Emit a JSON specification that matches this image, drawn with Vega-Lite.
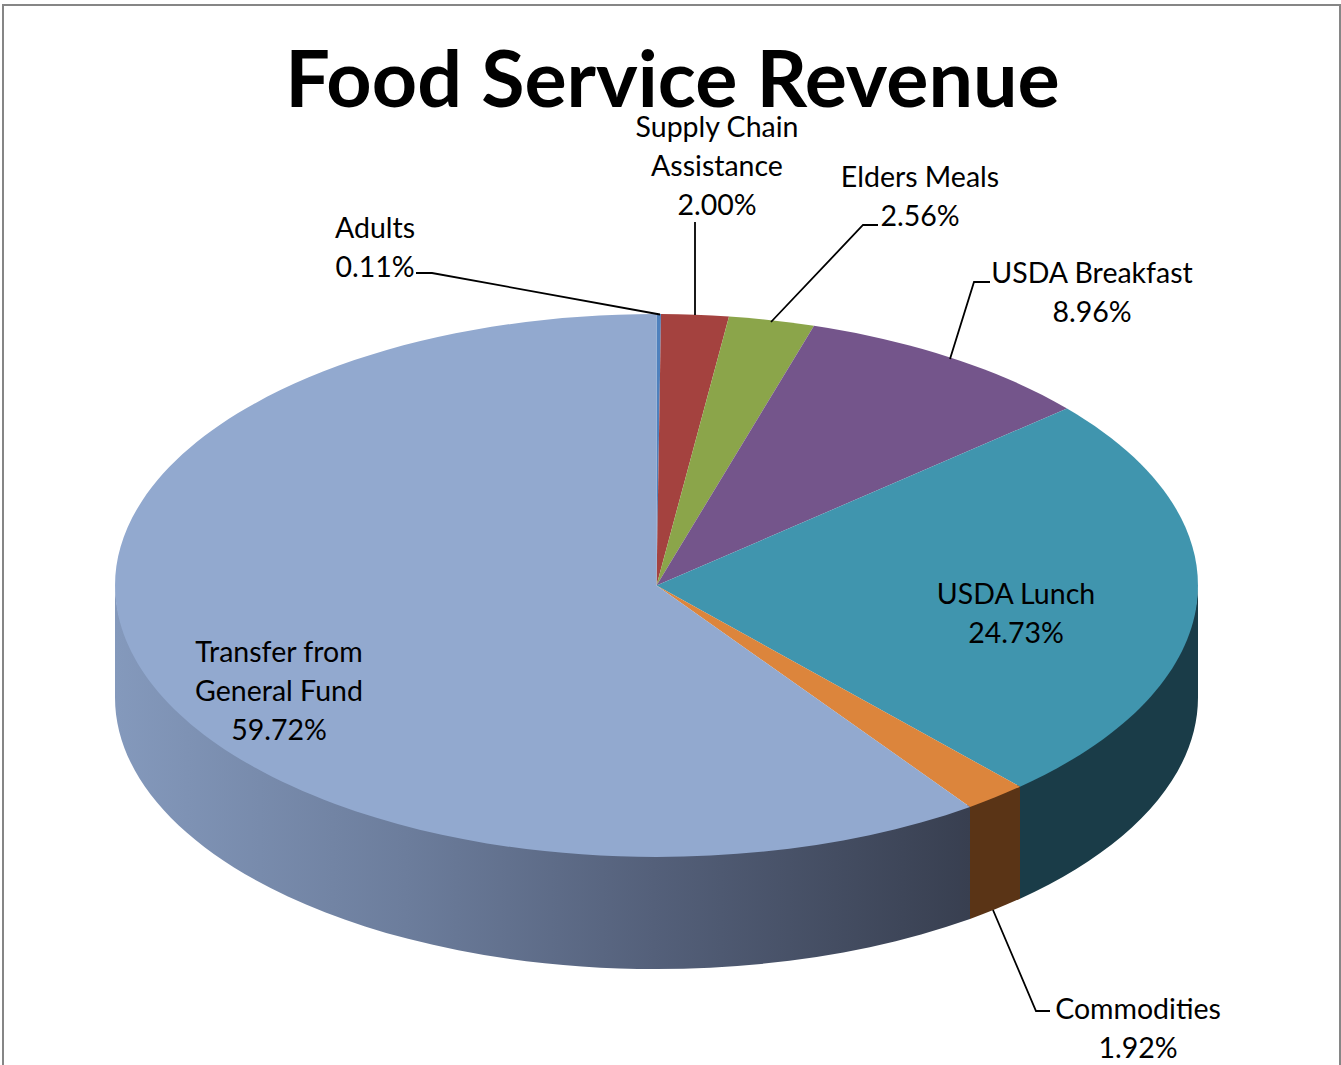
{"$schema":"https://vega.github.io/schema/vega-lite/v6.json","width":1341,"height":1065,"padding":0,"autosize":"none","background":"white","config":{"view":{"stroke":null}},"title":{"text":"Food Service Revenue","orient":"top","anchor":"middle","offset":-124,"dx":2,"font":"Lato","fontSize":79,"fontWeight":"bold","color":"#000000"},"data":{"values":[{"category":"Adults","share":0.11,"label":"Adults\n0.11%"},{"category":"Supply Chain Assistance","share":2.0,"label":"Supply Chain\nAssistance\n2.00%"},{"category":"Elders Meals","share":2.56,"label":"Elders Meals\n2.56%"},{"category":"USDA Breakfast","share":8.96,"label":"USDA Breakfast\n8.96%"},{"category":"USDA Lunch","share":24.73,"label":"USDA Lunch\n24.73%"},{"category":"Commodities","share":1.92,"label":"Commodities\n1.92%"},{"category":"Transfer from General Fund","share":59.72,"label":"Transfer from\nGeneral Fund\n59.72%"}]},"encoding":{"x":{"datum":0,"type":"quantitative","axis":null,"scale":{"domain":[-656.5,684.5],"nice":false,"zero":false}},"y":{"datum":0,"type":"quantitative","axis":null,"scale":{"domain":[-585.5,479.5],"reverse":true,"nice":false,"zero":false}}},"layer":[{"mark":{"type":"rect","fill":null,"stroke":"#868686","strokeWidth":2,"clip":true},"transform":[{"filter":"datum.category==='Adults'"}],"encoding":{"x":{"datum":-653.5},"x2":{"datum":683.5},"y":{"datum":-580.5},"y2":{"datum":500}}},{"transform":[{"filter":"datum.category==='Transfer from General Fund'"}],"mark":{"type":"point","filled":true,"opacity":1,"size":4,"strokeWidth":0,"shape":"M313.5 218.4A541.5 271.5 0 0 1 -541.5 -3L-541.5 112A541.5 271.5 0 0 0 313.5 333.4Z","fill":{"gradient":"linear","x1":1,"y1":0,"x2":0,"y2":0,"stops":[{"offset":0,"color":"#383f50"},{"offset":0.37,"color":"#54607a"},{"offset":0.66,"color":"#6c7d9c"},{"offset":1,"color":"#8499bc"}]}}},{"transform":[{"filter":"datum.category==='Commodities'"}],"mark":{"type":"point","filled":true,"opacity":1,"size":4,"strokeWidth":0,"fill":"#5a3416","shape":"M363.5 198.2A541.5 271.5 0 0 1 313.5 218.4L313.5 333.4A541.5 271.5 0 0 0 363.5 313.2Z"}},{"transform":[{"filter":"datum.category==='USDA Lunch'"}],"mark":{"type":"point","filled":true,"opacity":1,"size":4,"strokeWidth":0,"fill":"#1a3c48","shape":"M541.5 -3A541.5 271.5 0 0 1 363.5 198.2L363.5 313.2A541.5 271.5 0 0 0 541.5 112Z"}},{"mark":{"type":"point","filled":true,"opacity":1,"size":4,"strokeWidth":0},"encoding":{"shape":{"field":"category","type":"nominal","legend":null,"scale":{"domain":["Adults","Supply Chain Assistance","Elders Meals","USDA Breakfast","USDA Lunch","Commodities","Transfer from General Fund"],"range":["M0 0L0 -271.5A541.5 271.5 0 0 1 4.5 -271.5Z","M0 0L4.5 -271.5A541.5 271.5 0 0 1 72.5 -269.05Z","M0 0L72.5 -269.05A541.5 271.5 0 0 1 157.5 -259.8Z","M0 0L157.5 -259.8A541.5 271.5 0 0 1 410.5 -177.05Z","M0 0L410.5 -177.05A541.5 271.5 0 0 1 363.5 201.2Z","M0 0L363.5 201.2A541.5 271.5 0 0 1 313.5 221.4Z","M0 0L313.5 221.4A541.5 271.5 0 1 1 0 -271.5Z"]}},"fill":{"field":"category","type":"nominal","legend":null,"scale":{"domain":["Adults","Supply Chain Assistance","Elders Meals","USDA Breakfast","USDA Lunch","Commodities","Transfer from General Fund"],"range":["#4f81bd","#a4423f","#8ba54a","#74558b","#4095ae","#dc853c","#92a9cf"]}}}},{"transform":[{"filter":"datum.category==='Adults'"}],"mark":{"type":"point","filled":false,"opacity":1,"size":4,"stroke":"#000000","strokeWidth":1.8,"shape":"M-240.5 -312.5L-224.5 -312.5L3.5 -271"}},{"transform":[{"filter":"datum.category==='Supply Chain Assistance'"}],"mark":{"type":"point","filled":false,"opacity":1,"size":4,"stroke":"#000000","strokeWidth":1.8,"shape":"M38.5 -363.5L38.5 -270.5"}},{"transform":[{"filter":"datum.category==='Elders Meals'"}],"mark":{"type":"point","filled":false,"opacity":1,"size":4,"stroke":"#000000","strokeWidth":1.8,"shape":"M221.5 -360.5L206.5 -360.5L114.5 -263.5"}},{"transform":[{"filter":"datum.category==='USDA Breakfast'"}],"mark":{"type":"point","filled":false,"opacity":1,"size":4,"stroke":"#000000","strokeWidth":1.8,"shape":"M333.5 -303.5L317.5 -303.5L293.5 -226.5"}},{"transform":[{"filter":"datum.category==='Commodities'"}],"mark":{"type":"point","filled":false,"opacity":1,"size":4,"stroke":"#000000","strokeWidth":1.8,"shape":"M393.5 425.5L379.5 425.5L336.5 324.5"}},{"transform":[{"filter":"datum.category==='Adults'"}],"mark":{"type":"text","font":"Lato","fontSize":28.5,"lineBreak":"\n","lineHeight":39,"align":"center","baseline":"middle","color":"#000000"},"encoding":{"text":{"field":"label"},"x":{"datum":-281.5},"y":{"datum":-356.5}}},{"transform":[{"filter":"datum.category==='Supply Chain Assistance'"}],"mark":{"type":"text","font":"Lato","fontSize":28.5,"lineBreak":"\n","lineHeight":39,"align":"center","baseline":"middle","color":"#000000"},"encoding":{"text":{"field":"label"},"x":{"datum":60.5},"y":{"datum":-457.5}}},{"transform":[{"filter":"datum.category==='Elders Meals'"}],"mark":{"type":"text","font":"Lato","fontSize":28.5,"lineBreak":"\n","lineHeight":39,"align":"center","baseline":"middle","color":"#000000"},"encoding":{"text":{"field":"label"},"x":{"datum":263.5},"y":{"datum":-408}}},{"transform":[{"filter":"datum.category==='USDA Breakfast'"}],"mark":{"type":"text","font":"Lato","fontSize":28.5,"lineBreak":"\n","lineHeight":39,"align":"center","baseline":"middle","color":"#000000"},"encoding":{"text":{"field":"label"},"x":{"datum":435.5},"y":{"datum":-312}}},{"transform":[{"filter":"datum.category==='USDA Lunch'"}],"mark":{"type":"text","font":"Lato","fontSize":28.5,"lineBreak":"\n","lineHeight":39,"align":"center","baseline":"middle","color":"#000000"},"encoding":{"text":{"field":"label"},"x":{"datum":359.5},"y":{"datum":9}}},{"transform":[{"filter":"datum.category==='Commodities'"}],"mark":{"type":"text","font":"Lato","fontSize":28.5,"lineBreak":"\n","lineHeight":39,"align":"center","baseline":"middle","color":"#000000"},"encoding":{"text":{"field":"label"},"x":{"datum":481.5},"y":{"datum":424}}},{"transform":[{"filter":"datum.category==='Transfer from General Fund'"}],"mark":{"type":"text","font":"Lato","fontSize":28.5,"lineBreak":"\n","lineHeight":39,"align":"center","baseline":"middle","color":"#000000"},"encoding":{"text":{"field":"label"},"x":{"datum":-377.5},"y":{"datum":67.5}}}]}
